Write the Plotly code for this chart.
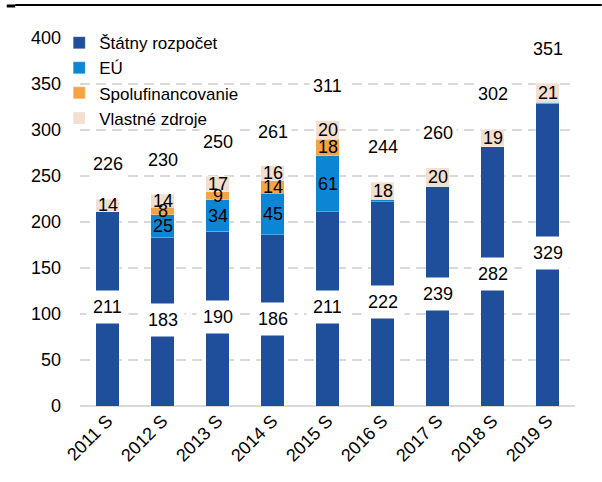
import plotly.graph_objects as go

categories = ["2011 S", "2012 S", "2013 S", "2014 S", "2015 S", "2016 S", "2017 S", "2018 S", "2019 S"]
statny = [211, 183, 190, 186, 211, 222, 239, 282, 329]
eu = [0, 25, 34, 45, 61, 2, 0, 0, 1]
spolu = [0, 8, 9, 14, 18, 1, 0, 0, 0]
vlastne = [14, 14, 17, 16, 20, 18, 20, 19, 21]
totals = [226, 230, 250, 261, 311, 244, 260, 302, 351]

FONT = "Liberation Sans, Arial, sans-serif"
FS = 18
colors = {"statny": "#1F4E9B", "eu": "#0B86D5", "spolu": "#F4A444", "vlastne": "#F2DFD0"}

fig = go.Figure()
series = [("Štátny rozpočet", statny, colors["statny"]),
          ("EÚ", eu, colors["eu"]),
          ("Spolufinancovanie", spolu, colors["spolu"]),
          ("Vlastné zdroje", vlastne, colors["vlastne"])]
for name, vals, col in series:
    fig.add_trace(go.Bar(x=categories, y=vals, name=name, marker_color=col,
                         marker_line_width=0.8, marker_line_color="rgba(255,255,255,0.35)",
                         width=0.42))

ann = []
for i, c in enumerate(categories):
    ann.append(dict(x=c, y=statny[i] / 2 + 2, text=str(statny[i]), showarrow=False,
                    bgcolor="white", borderpad=6, font=dict(family=FONT, size=FS, color="black")))
    base = statny[i]
    for vals in (eu, spolu, vlastne):
        v = vals[i]
        if v >= 5:
            ann.append(dict(x=c, y=base + v / 2, text=str(v), showarrow=False,
                            font=dict(family=FONT, size=FS, color="black")))
        base += v
    ann.append(dict(x=c, y=totals[i] + 37, text=str(totals[i]), showarrow=False,
                    bgcolor="white", borderpad=3, font=dict(family=FONT, size=FS, color="black")))

fig.update_layout(
    barmode="stack",
    width=602, height=482,
    margin=dict(l=80, r=27, t=38, b=76),
    paper_bgcolor="white", plot_bgcolor="white",
    font=dict(family=FONT, size=FS, color="black"),
    showlegend=True,
    legend=dict(x=-0.042, y=1.035, xanchor="left", yanchor="top", bgcolor="rgba(0,0,0,0)",
                font=dict(family=FONT, size=17, color="black"), tracegroupgap=0,
                itemwidth=30, traceorder="normal"),
    annotations=ann,
    shapes=[
        dict(type="line", xref="paper", yref="paper", x0=-0.131, x1=1.054, y0=1.09, y1=1.09,
             line=dict(color="black", width=2)),
        dict(type="line", xref="paper", yref="paper", x0=-0.148, x1=-0.131, y0=1.087, y1=1.087,
             line=dict(color="black", width=3)),
    ],
)
fig.update_yaxes(range=[0, 400], dtick=50, showgrid=True, gridcolor="#D9D9D9", gridwidth=2,
                 griddash="10px,6px", zeroline=True, zerolinecolor="#D9D9D9", zerolinewidth=2,
                 showline=False, ticks="", ticklabelstandoff=18,
                 tickfont=dict(family=FONT, size=FS, color="black"))
fig.update_xaxes(tickangle=-45, showgrid=False, showline=False, ticks="",
                 tickfont=dict(family=FONT, size=FS, color="black"))

fig.write_html("out.html", config={"displayModeBar": False},
               post_script="document.body.style.margin='0';")
